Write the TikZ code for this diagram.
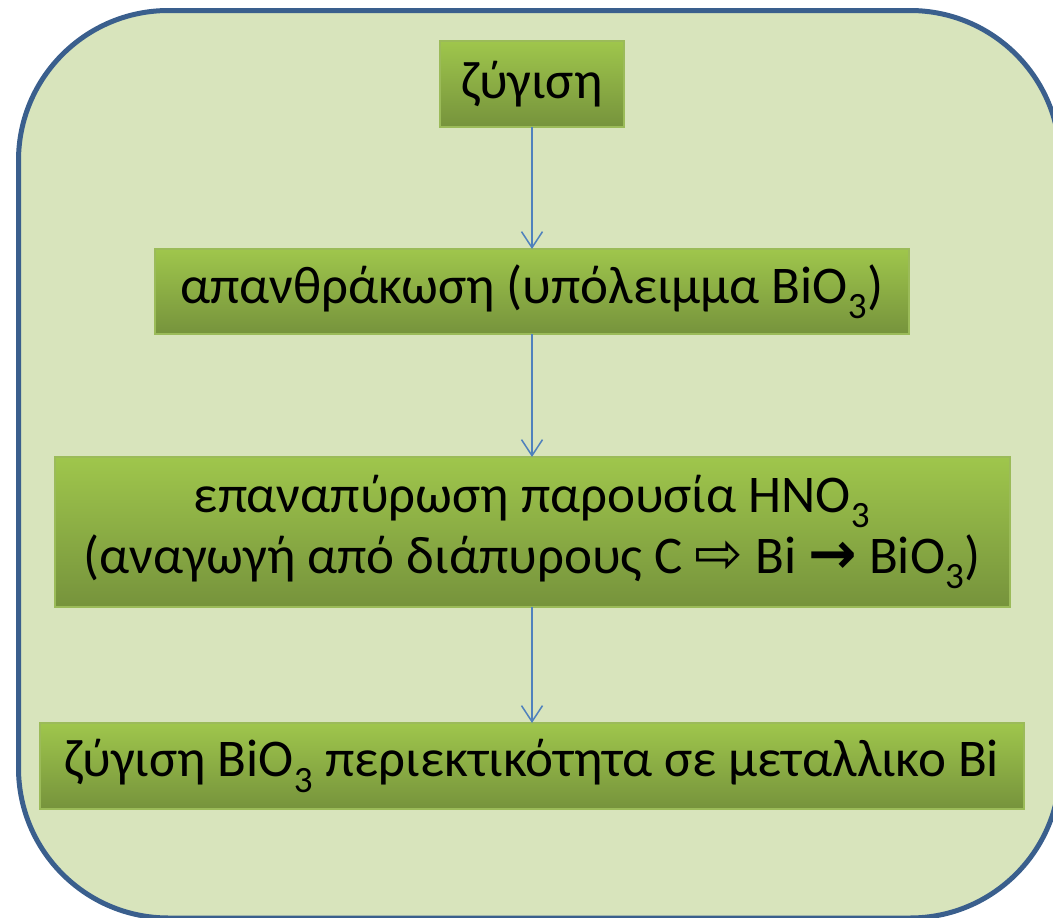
\documentclass[tikz,border=0pt]{standalone}
\usepackage{fontspec}
\setmainfont{Carlito}
\newfontfamily\symfont{DejaVu Sans}
\usetikzlibrary{arrows.meta}

\definecolor{panelfill}{HTML}{D8E4BC}
\definecolor{panelline}{HTML}{3A5F8D}
\definecolor{boxtop}{HTML}{9FC64C}
\definecolor{boxbottom}{HTML}{76933C}
\definecolor{boxline}{HTML}{9BBB59}
\definecolor{flowline}{HTML}{4F81BD}

\newcommand{\bigsym}[1]{{\symfont\fontsize{58}{60}\selectfont #1}}

\tikzset{
  stagebox/.style={draw=boxline, line width=2pt, top color=boxtop, bottom color=boxbottom,
                   inner sep=0pt, outer sep=0pt, align=center,
                   font=\fontsize{53}{61}\selectfont},
  flowarrow/.style={draw=flowline, line width=1.5pt, -{Straight Barb[length=16pt,width=21pt,line width=1.5pt]}}
}

\begin{document}
\begin{tikzpicture}[x=1pt,y=-1pt]
      % page size and panel
      \useasboundingbox (0,0) rectangle (1053,918);
      \clip (0,0) rectangle (1053,918);
      \draw [fill=panelfill, draw=panelline, line width=5pt, rounded corners=150pt]
            (18.5,10.5) rectangle (1060,918);

      % stages
      \node (weigh)  [stagebox, minimum width=184pt, minimum height=86pt]  at (532,84)    {ζύγιση};
      \node (char)   [stagebox, minimum width=754pt, minimum height=85pt]  at (532,291.5) {απανθράκωση (υπόλειμμα BiO\textsubscript{3})};
      \node (reheat) [stagebox, minimum width=955pt, minimum height=150pt] at (532,532)   {επαναπύρωση παρουσία HNO\textsubscript{3}\\(αναγωγή από διάπυρους C \bigsym{⇨} Bi \bigsym{\bfseries →} BiO\textsubscript{3})};
      \node (final)  [stagebox, minimum width=984pt, minimum height=86pt]  at (532,766)   {ζύγιση BiO\textsubscript{3} περιεκτικότητα σε μεταλλικο Bi};

      % connectors
      \path [flowarrow] (weigh)  edge (char);
      \path [flowarrow] (char)   edge (reheat);
      \path [flowarrow] (reheat) edge (final);
\end{tikzpicture}
\end{document}
